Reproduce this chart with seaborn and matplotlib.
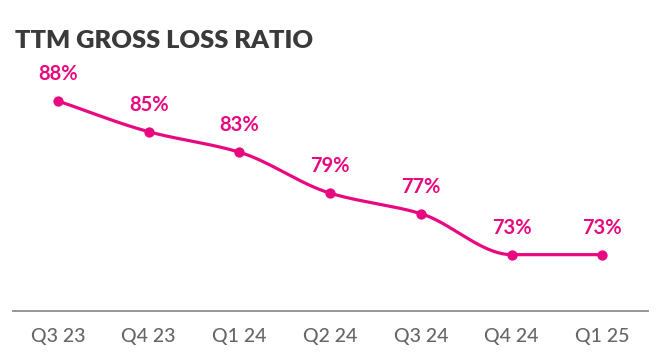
import numpy as np
import pandas as pd
import matplotlib
matplotlib.use("Agg")
import matplotlib.pyplot as plt
import seaborn as sns

quarters = ["Q3 23", "Q4 23", "Q1 24", "Q2 24", "Q3 24", "Q4 24", "Q1 25"]
loss_ratio = [88, 85, 83, 79, 77, 73, 73]
title = "TTM GROSS LOSS RATIO"

PINK = "#E8087F"
TITLE_C = "#3a3a3a"
TICK_C = "#666666"
AXIS_C = "#8c8c8c"

sns.set_theme(style="white")
plt.rcParams["font.family"] = ["Lato", "DejaVu Sans"]


def monotone_curve(x, y, n=60):
    x = np.asarray(x, float)
    y = np.asarray(y, float)
    h = np.diff(x)
    d = np.diff(y) / h
    m = np.zeros_like(y)
    m[0], m[-1] = d[0], d[-1]
    for i in range(1, len(y) - 1):
        if d[i - 1] * d[i] <= 0:
            m[i] = 0.0
        else:
            w1 = 2 * h[i] + h[i - 1]
            w2 = h[i] + 2 * h[i - 1]
            m[i] = (w1 + w2) / (w1 / d[i - 1] + w2 / d[i])
    xs, ys = [], []
    for i in range(len(x) - 1):
        t = np.linspace(0, 1, n, endpoint=(i == len(x) - 2))
        h00 = 2 * t**3 - 3 * t**2 + 1
        h10 = t**3 - 2 * t**2 + t
        h01 = -2 * t**3 + 3 * t**2
        h11 = t**3 - t**2
        xs.append(x[i] + t * h[i])
        ys.append(h00 * y[i] + h10 * h[i] * m[i] + h01 * y[i + 1] + h11 * h[i] * m[i + 1])
    return np.concatenate(xs), np.concatenate(ys)


pos = np.arange(len(quarters))
cx, cy = monotone_curve(pos, loss_ratio)
curve = pd.DataFrame({"x": cx, "y": cy})
pts = pd.DataFrame({"x": pos, "y": loss_ratio})

fig = plt.figure(figsize=(6.63, 3.53), dpi=100)
ax = fig.add_axes([0.019, 0.119, 0.958, 0.711])

sns.lineplot(data=curve, x="x", y="y", ax=ax, color=PINK, linewidth=2.3,
             estimator=None, sort=False)
sns.scatterplot(data=pts, x="x", y="y", ax=ax, color=PINK, s=55,
                edgecolor=PINK, linewidth=0, zorder=5)

for xi, v in zip(pos, loss_ratio):
    ax.annotate(f"{v}%", (xi, v), xytext=(0, 15), textcoords="offset points",
                ha="center", va="baseline", color=PINK, fontsize=14.5,
                fontweight="bold")

ax.set_xlim(-0.5, len(quarters) - 0.5)
ax.set_ylim(67.5, 92.0)
ax.set_xticks(pos)
ax.set_xticklabels(quarters, color=TICK_C, fontsize=14, fontweight="medium")
ax.set_yticks([])
ax.set_xlabel("")
ax.set_ylabel("")
ax.tick_params(axis="x", length=0, pad=12)
for s in ["top", "left", "right"]:
    ax.spines[s].set_visible(False)
ax.spines["bottom"].set_color(AXIS_C)
ax.spines["bottom"].set_linewidth(1.3)

fig.text(15 / 663, 1 - 48 / 353, title, ha="left", va="baseline",
         color=TITLE_C, fontsize=18.3, fontweight="heavy")

fig.savefig("out.png", dpi=100)
